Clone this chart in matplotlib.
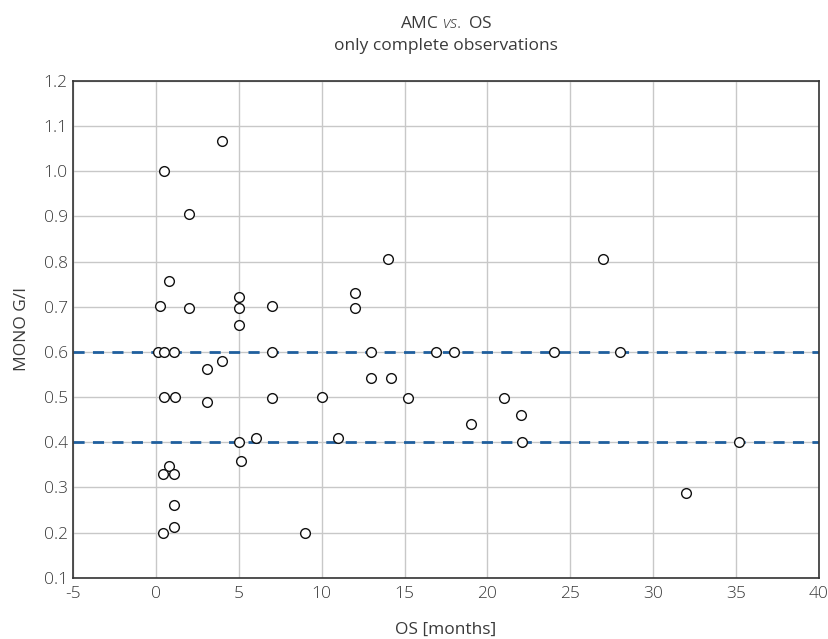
import matplotlib
matplotlib.use("Agg")
import matplotlib.pyplot as plt

# OS in months vs MONO G/I
os_months = [4, 0.5, 2, 0.8, 0.25, 2, 5, 5, 5, 7,
             12, 12, 14, 27, 24, 28, 35.2, 32, 0.1, 0.5,
             1.05, 7, 4, 3.1, 0.5, 1.15, 3.1, 7, 10, 5,
             6, 11, 5.1, 0.8, 0.4, 1.05, 1.05, 0.4, 1.05, 9,
             13, 16.9, 18, 13, 14.2, 15.2, 21, 22, 19, 22.1]
mono_gi = [1.067, 1.0, 0.905, 0.757, 0.702, 0.698, 0.722, 0.698, 0.66, 0.702,
           0.731, 0.698, 0.806, 0.806, 0.6, 0.6, 0.4, 0.288, 0.6, 0.6,
           0.6, 0.6, 0.58, 0.562, 0.5, 0.5, 0.49, 0.497, 0.5, 0.4,
           0.41, 0.41, 0.358, 0.348, 0.33, 0.33, 0.26, 0.2, 0.213, 0.2,
           0.6, 0.6, 0.6, 0.543, 0.543, 0.497, 0.497, 0.46, 0.44, 0.4]
ref_lines = [0.4, 0.6]

x_ticks = list(range(-5, 45, 5))
y_ticks = [0.1, 0.2, 0.3, 0.4, 0.5, 0.6, 0.7, 0.8, 0.9, 1.0, 1.1, 1.2]

plt.rcParams['font.family'] = ['Open Sans', 'DejaVu Sans']
plt.rcParams['font.weight'] = 'light'
plt.rcParams['axes.unicode_minus'] = False
plt.rcParams['mathtext.fontset'] = 'custom'
plt.rcParams['mathtext.rm'] = 'Open Sans:light'
plt.rcParams['mathtext.it'] = 'Open Sans:italic:light'

txt = '#3a3a3a'
fig = plt.figure(figsize=(8.29, 6.39), dpi=100)
ax = fig.add_axes([0.0884, 0.0959, 0.8992, 0.7773])

ax.grid(True, color='#c8c8c8', linewidth=1.0, zorder=0)
for y in ref_lines:
    ax.axhline(y, color='#1f5f9e', linestyle=(0, (4, 3)), linewidth=2.0, zorder=2)
ax.plot(os_months, mono_gi, linestyle='none', marker='o', markersize=7,
        markerfacecolor='white', markeredgecolor='#111111', markeredgewidth=1.0, zorder=3)

ax.set_xlim(-5, 40)
ax.set_ylim(0.1, 1.2)
ax.set_xticks(x_ticks)
ax.set_yticks(y_ticks)
ax.set_yticklabels(['%.1f' % v for v in y_ticks])
ax.tick_params(length=0, labelsize=12.5, labelcolor=txt)
ax.tick_params(axis='y', pad=4)
ax.tick_params(axis='x', pad=6)
for sp in ax.spines.values():
    sp.set_color('#333333')
    sp.set_linewidth(1.2)

ax.set_xlabel('OS [months]', fontsize=12.5, color=txt, labelpad=14)
ax.set_ylabel('MONO G/I', fontsize=12.5, color=txt, labelpad=10)
ax.set_title('AMC $\\it{vs.}$ OS\nonly complete observations', fontsize=12.5,
             color=txt, pad=22, linespacing=1.5)

fig.savefig('out.png', dpi=100)
